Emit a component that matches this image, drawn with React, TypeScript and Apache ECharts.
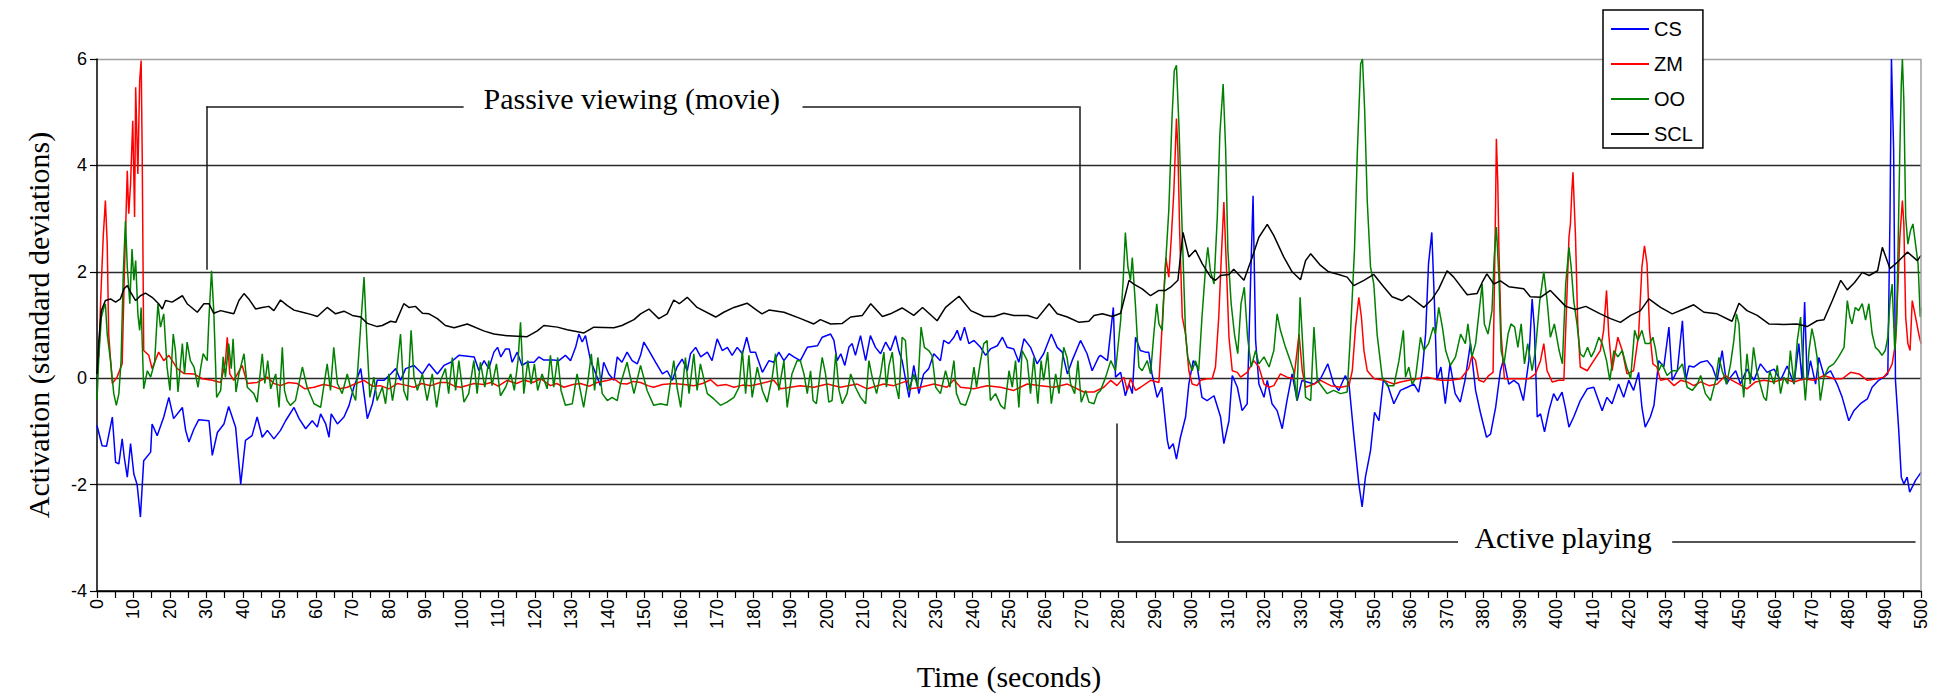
import React, { useEffect, useRef } from "react";
import * as echarts from "echarts";

const SERIES_NAMES = ["CS", "ZM", "OO", "SCL"];
const SERIES_COLORS = ["#0000ff", "#ff0000", "#008000", "#000000"];

const X_MIN = 0;
const X_MAX = 500;
const X_STEP = 10;
const Y_MIN = -4;
const Y_MAX = 6;
const Y_STEP = 2;

const X_TITLE = "Time (seconds)";
const Y_TITLE = "Activation (standard deviations)";

// [time (s), activation]
const csData: number[][] = [
  [0,-0.89],[1.4,-1.27],[2.6,-1.28],[4.2,-0.73],[5.1,-1.58],[6,-1.61],[6.9,-1.14],[7.5,-1.5],[8.3,-1.86],[9.2,-1.23],[10.1,-1.8],[11,-2.0],[11.9,-2.61],[12.8,-1.55],[14.7,-1.39],[15.1,-0.86],[16.5,-1.08],[18.3,-0.73],[19.7,-0.36],[21,-0.76],[23.4,-0.55],[24.3,-0.98],[25.2,-1.2],[26.6,-0.95],[27.9,-0.78],[30.7,-0.8],[31.6,-1.45],[33,-1.02],[34.8,-0.86],[36.1,-0.53],[38,-0.92],[39.4,-1.99],[40.7,-1.17],[42.5,-1.08],[43.9,-0.73],[45.3,-1.11],[46.7,-0.98],[48.5,-1.14],[50.3,-0.98],[51.7,-0.8],[54,-0.55],[55.4,-0.76],[57.2,-0.95],[59,-0.8],[60.4,-0.92],[61.3,-0.67],[62.7,-0.86],[63.6,-1.11],[64.2,-0.67],[65.9,-0.86],[67.7,-0.73],[69.1,-0.51],[70.4,-0.17],[72.3,0.18],[73.2,-0.29],[74.1,-0.76],[75.5,-0.48],[76.8,-0.04],[78.7,-0.04],[80.5,0.08],[81.9,0.18],[83.2,-0.04],[84.6,0.18],[86.9,0.24],[89.2,0.08],[91,0.27],[93.3,0.08],[95.1,0.24],[97,0.3],[99.2,0.43],
  [103.4,0.4],[104.7,0.14],[106.1,0.33],[107.4,0.18],[108.8,0.49],[109.8,0.58],[110.7,0.4],[112,0.55],[113,0.55],[113.8,0.3],[115.2,0.49],[116.5,0.24],[117.9,0.3],[119.8,0.3],[121.1,0.4],[122.5,0.34],[125.2,0.34],[126.6,0.33],[128.4,0.43],[129.8,0.33],[131.2,0.58],[132.1,0.83],[133,0.68],[133.9,0.8],[135.3,0.33],[137.1,0.02],[138,-0.14],[138.9,0.3],[140.3,0.08],[141.7,-0.04],[142.6,0.4],[143.9,0.3],[145.3,0.49],[146.7,0.33],[148.1,0.27],[149,0.43],[149.9,0.68],[151.3,0.52],[153.1,0.3],[155,0.08],[156.3,0.14],[157.7,-0.04],[159,0.21],[160.4,0.36],[161.8,0.14],[162.7,0.46],[164.1,0.58],[165.5,0.4],[167.3,0.49],[168.6,0.33],[170,0.74],[171.4,0.52],[172.8,0.58],[174.1,0.43],[175.5,0.58],[176.9,0.46],[178.1,0.77],[179.1,0.49],[180.5,0.49],[182.4,0.11],[184.2,0.33],[185.5,0.3],[186.9,0.49],[188.3,0.33],[189.7,0.46],[191,0.4],
  [192.8,0.33],[194.7,0.58],[197.5,0.61],[198.8,0.77],[201.1,0.83],[202,0.71],[202.9,0.33],[203.9,0.46],[205,0.24],[206.1,0.58],[207,0.65],[207.9,0.43],[209.3,0.8],[210.7,0.33],[212,0.8],[213.4,0.58],[214.8,0.46],[216.2,0.68],[217.5,0.52],[218.9,0.8],[219.8,0.52],[220.7,0.33],[221.7,-0.04],[222.6,-0.36],[223.9,0.24],[225.3,-0.29],[226.6,0.08],[228,0.18],[229.4,0.46],[231.2,0.33],[232.1,0.71],[233.5,0.65],[234.9,0.77],[235.8,0.9],[236.7,0.71],[237.8,0.96],[239,0.65],[240.4,0.71],[242.2,0.58],[243.6,0.43],[244.9,0.55],[246.8,0.61],[248.2,0.77],[249.5,0.58],[251.3,0.55],[252.7,0.3],[254.1,0.74],[255.9,0.58],[257.7,0.27],[259.5,0.46],[261.6,0.83],[263.2,0.58],[264.6,0.49],[266,0.08],[267.3,0.33],[269.6,0.71],[271.4,0.46],[272.8,0.14],[274.6,0.4],
  [275.1,0.43],[277,0.33],[278.6,1.33],[279.2,0.02],[280.6,0.11],[281.9,-0.33],[282.9,-0.11],[283.8,-0.29],[284.7,0.77],[286,0.52],[287.4,0.49],[288.3,0.49],[289.2,0.08],[290.6,-0.36],[291.9,-0.17],[293.4,-1.17],[293.9,-1.33],[295,-1.23],[295.9,-1.52],[297,-1.11],[298.4,-0.73],[299.3,-0.11],[300.5,0.33],[301.6,0.21],[302.9,-0.36],[304.3,-0.42],[306.2,-0.33],[308,-0.73],[308.9,-1.23],[310.3,-0.8],[311.2,0.05],[312.6,-0.17],[313.9,-0.61],[315.3,-0.48],[316.2,1.77],[316.9,3.43],[317.6,0.71],[318.5,-0.11],[319.9,-0.36],[320.8,-0.04],[322.1,-0.48],[323.5,-0.61],[324.9,-0.95],[326.2,-0.42],[327.6,0.08],[329,-0.42],[330.3,-0.04],[331.7,-0.07],[333.6,-0.11],[335.4,-0.01],[337.4,0.27],[339,-0.11],[340.4,-0.23],[342.2,0.05],[343.2,-0.11],[344.5,-1.05],[345.9,-1.99],[346.8,-2.42],[347.7,-1.86],[349.1,-1.36],[350.2,-0.64],[351.4,-0.8],[352.6,-0.04],[353.7,-0.11],[355.5,-0.48],[357.3,-0.23],
  [359.2,-0.17],[361,-0.11],[362.3,-0.26],[363.3,0.14],[364.2,0.83],[365,2.15],[365.9,2.74],[366.6,1.46],[367.3,-0.04],[368.4,0.21],[369.6,-0.48],[370.9,0.27],[372.3,-0.29],[373.7,-0.45],[375,-0.04],[376.5,0.65],[377.9,-0.23],[379.2,-0.64],[380.9,-1.11],[382,-1.05],[383.4,-0.55],[384.7,0.14],[385.6,0.36],[387,-0.11],[388.4,-0.04],[389.7,-0.11],[391,-0.42],[392.5,0.33],[393.4,1.49],[394,0.96],[394.8,-0.73],[395.7,-0.67],[396.8,-1.01],[398,-0.61],[399.3,-0.29],[400.3,-0.42],[401.6,-0.26],[402.5,-0.55],[403.5,-0.92],[404.8,-0.73],[406.6,-0.42],[408.5,-0.2],[410.3,-0.17],[412.6,-0.61],[413.9,-0.36],[415.3,-0.48],[417.1,-0.11],[418.5,-0.36],[419.9,-0.04],[421.2,-0.23],[422.6,0.11],[423.5,-0.55],[424.4,-0.92],[425.8,-0.73],
  [426.8,-0.51],[428.1,0.33],[429.5,0.21],[430.9,0.96],[431.8,-0.04],[433.2,0.14],[434.6,1.08],[435.5,-0.04],[436.4,0.23],[437.7,0.21],[439.6,0.3],[441.4,0.33],[442.8,0.21],[444.1,-0.04],[445.5,0.52],[446.7,-0.11],[447.8,0.02],[449.2,0.14],[450.5,-0.11],[452.3,0.17],[454.2,-0.04],[456,0.27],[457.8,0.11],[459.7,0.17],[461.5,-0.04],[463.3,0.23],[465.2,-0.11],[466.5,0.65],[467.4,-0.04],[468.1,1.43],[468.8,-0.04],[469.7,0.33],[471.1,-0.11],[472,0.39],[473.4,0.05],[475.2,0.14],[477,-0.11],[478.4,-0.36],[480.2,-0.8],[481.6,-0.61],[483.4,-0.48],[485.3,-0.39],[486.6,-0.17],[488.4,-0.04],[489.8,0.02],[490.9,0.08],[491.5,3.03],[491.9,6.0],[492.5,4.28],[493,-0.04],[493.9,-0.98],[494.6,-1.86],[495.3,-1.99],[496.2,-1.86],[496.9,-2.14],[498.5,-1.92],[500,-1.77]
];

const zmData: number[][] = [
  [0,0.4],[0.5,0.4],[1,1.46],[1.7,2.65],[2.3,3.34],[2.8,2.53],[3.2,0.83],[4.2,-0.1],[5.5,0.02],[6.9,0.27],[7.5,1.96],[8.3,3.9],[8.7,3.09],[9.2,3.65],[9.8,4.84],[10.3,3.03],[10.6,5.47],[11.2,3.84],[11.7,5.6],[12.1,5.97],[12.4,4.15],[12.8,0.52],[14.2,0.43],[15.1,0.18],[16.9,0.49],[18.3,0.33],[19.7,0.43],[22,0.18],[23.8,0.09],[26.6,0.08],[28.8,-0.01],[31.6,-0.04],[33.9,-0.08],[35.2,0.3],[35.7,0.77],[36.4,0.08],[37.5,-0.04],[39.8,0.24],[41.2,-0.1],[43.9,-0.08],[46.7,0.02],[48.5,-0.1],[50.3,-0.14],[52.5,-0.08],[54.9,-0.1],[57,-0.2],[59.5,-0.17],[62,-0.12],[64,-0.14],[66.5,-0.2],[68.6,-0.17],[71,-0.1],[73.2,-0.04],[75.5,-0.15],[77.7,-0.14],[80,-0.2],[82.3,-0.1],[84.5,-0.13],[86.9,-0.17],[89,-0.1],[91.5,-0.14],[94,-0.08],[96,-0.08],[98,-0.15],[99.7,-0.17],
  [103.4,-0.1],[106,-0.12],[108,-0.08],[110,-0.15],[112.4,-0.04],[115,-0.1],[117,-0.04],[119.5,-0.08],[121.6,-0.01],[124.3,-0.14],[126,-0.1],[128,-0.17],[130.5,-0.12],[132.5,-0.1],[135,-0.15],[137.1,-0.08],[139.5,-0.05],[141.7,-0.01],[143.5,-0.1],[145.3,-0.11],[147,-0.06],[149,-0.08],[151,-0.14],[152.6,-0.17],[155,-0.12],[158.1,-0.1],[161,-0.12],[163.6,-0.14],[166,-0.1],[168.2,-0.03],[170,-0.14],[172.5,-0.12],[174.6,-0.17],[177,-0.13],[179.2,-0.14],[182,-0.1],[185.5,-0.04],[187.4,-0.2],[190.1,-0.17],
  [192.8,-0.14],[196.5,-0.17],[200.2,-0.11],[203.8,-0.17],[208.4,-0.11],[211.1,-0.2],[215.7,-0.11],[218.4,-0.14],[222.1,-0.05],[223,-0.2],[225.8,-0.17],[229.4,-0.11],[233,-0.17],[234.9,-0.03],[236.7,-0.17],[240.4,-0.2],[244,-0.14],[247.7,-0.17],[251.3,-0.23],[255,-0.11],[258.7,-0.14],[262.3,-0.17],[266,-0.11],[270.5,-0.26],[273.3,-0.26],[276,-0.17],[277.9,-0.04],[279.6,-0.14],[281.5,0.02],[282.4,-0.23],[283.3,-0.01],[284.7,-0.23],[286.1,-0.17],[288.8,-0.04],[291.1,-0.08],
  [291.7,0.65],[292.4,1.52],[293,2.27],[293.8,1.9],[294.5,2.65],[295.2,3.53],[295.9,4.88],[296.3,4.28],[296.8,2.71],[297.5,1.15],[298.4,0.83],[299.3,0.14],[300.2,-0.11],[301.6,-0.14],[302.5,-0.04],[304.3,-0.01],[305.7,-0.01],[306.6,0.21],[307.5,1.15],[308.2,2.27],[308.9,3.31],[309.6,2.09],[310.3,0.77],[311.2,0.14],[312.6,0.11],[313.5,0.02],[315.3,0.11],[317.1,0.33],[318.5,0.21],[319.9,-0.11],[321.3,-0.17],[322.6,-0.14],[324.4,0.08],[326.2,0.02],[328.1,-0.01],[329.5,0.83],[330.4,0.14],[331.3,-0.17],[333.6,-0.11],[335.4,-0.04],[338.2,-0.14],[340.9,-0.17],[343.2,-0.14],[344.1,0.14],[345,0.96],[345.9,1.52],[346.6,1.15],[347.3,0.52],[348.2,0.14],[350.1,-0.01],[352.8,-0.04],[355.5,-0.11],
  [357.3,-0.07],[359.6,-0.04],[361.9,-0.01],[364.7,0.02],[366.5,-0.01],[368.3,-0.04],[371,-0.04],[373.8,-0.01],[376,0.18],[376.9,0.43],[377.9,0.33],[378.8,-0.04],[380.2,-0.07],[381.5,0.05],[382.7,0.11],[383.4,3.34],[383.6,4.5],[384,3.65],[384.3,2.4],[384.9,0.83],[385.8,-0.01],[387.9,-0.01],[390.2,-0.01],[392.5,-0.01],[394.3,0.08],[395.7,0.33],[396.6,0.65],[397.5,0.14],[398.9,-0.07],[400.7,-0.04],[402.1,-0.04],[402.8,1.27],[403.5,2.65],[403.9,2.9],[404.3,3.53],[404.6,3.87],[405.3,2.65],[405.9,1.02],[406.6,0.21],[408.5,0.14],[410.3,0.33],[412.1,0.52],[413,0.9],[413.8,1.65],[414.4,0.83],[415.3,0.14],[416.9,0.77],[418.1,0.52],[419.4,0.08],[421.2,0.14],[422.6,0.83],[423.5,2.09],[424.2,2.49],[424.9,2.15],[425.6,0.9],[426.5,0.27],[427.6,0.21],
  [428.6,-0.04],[430.4,-0.01],[432.3,-0.14],[434.1,-0.04],[435.9,-0.07],[437.7,-0.14],[439.6,-0.07],[441.9,-0.14],[444.1,-0.11],[446.4,0.05],[448.2,-0.04],[450.1,-0.11],[452.3,-0.2],[454.6,-0.07],[456.9,-0.04],[459.7,-0.07],[462.4,-0.01],[465.2,-0.07],[467.9,-0.01],[470.6,-0.04],[473.4,0.05],[476.1,-0.01],[478.4,-0.01],[480.7,0.11],[483,0.08],[485.3,-0.04],[488,-0.01],[489.8,0.02],[491.2,0.14],[492.1,0.27],[493,0.65],[493.7,1.77],[494.2,2.65],[494.9,3.34],[495.3,2.9],[495.8,1.15],[496.4,0.65],[497,0.52],[497.6,1.46],[498.5,1.15],[499.4,0.83],[500,0.65]
];

const ooData: number[][] = [
  [0,-0.42],[0.5,0.4],[1.2,1.15],[1.9,1.33],[2.3,1.4],[2.8,0.83],[3.7,0.33],[4.6,-0.29],[5.3,-0.51],[6,-0.29],[6.6,0.33],[7.2,1.96],[7.8,2.96],[8.3,2.09],[9,1.4],[9.6,2.43],[10.1,1.84],[10.6,2.21],[11.2,1.21],[11.7,0.9],[12.1,1.33],[12.8,-0.2],[13.8,0.14],[14.7,0.02],[15.8,0.3],[16.7,1.4],[17.4,0.96],[18.3,1.21],[19.2,0.21],[20,-0.23],[20.9,0.83],[21.5,0.52],[22.2,-0.26],[23.4,0.65],[24,0.08],[24.7,0.68],[25.6,0.33],[26.6,0.21],[27.7,-0.17],[28.4,0.18],[29.1,0.46],[30.2,0.33],[30.7,1.15],[31.4,2.02],[32,1.27],[32.8,-0.36],[33.9,-0.23],[34.6,0.4],[35.2,0.02],[36.1,0.65],[36.8,0.18],[37.3,0.74],[38.1,-0.26],[38.9,0.08],[40.3,0.46],[41.2,-0.17],[42.1,-0.23],[43,-0.29],[43.9,-0.45],[45.3,0.46],[46,-0.1],[46.8,0.33],[47.6,-0.2],[49,0.08],[49.9,-0.55],[50.8,0.58],[51.4,-0.23],[52.1,-0.42],[53,-0.51],[54.4,-0.42],[56.3,0.21],[57.6,-0.17],[59.5,-0.48],[61.3,-0.55],[63.1,0.27],[64,-0.23],[64.9,0.58],[65.9,-0.1],[67.2,-0.29],[68.6,0.08],[69.5,-0.17],[70.9,-0.42],[72.3,0.99],[73.2,1.9],[73.9,0.83],[74.8,-0.36],[75.9,0.02],[76.8,-0.42],[78.2,-0.17],[79.1,-0.48],[80,0.08],[81,-0.42],[81.9,-0.04],[83.2,0.83],[84.1,-0.23],[85.1,-0.42],[86.1,0.9],[86.9,0.02],[87.8,-0.23],[89.2,0.08],[90.5,-0.42],[91.9,0.08],[93.1,-0.55],[94.2,-0.04],
  [95.5,0.18],[96.4,-0.29],[97.4,0.39],[98.3,-0.23],[99.2,0.33],[100.6,-0.45],[101.9,-0.29],[103.3,0.33],[104.2,-0.29],[105.1,0.3],[106.3,-0.17],[107.4,0.33],[108.3,-0.14],[109.5,0.27],[110.6,-0.33],[112,-0.17],[113.4,0.08],[114.4,-0.23],[115.4,0.33],[116.1,1.05],[117,-0.29],[118.1,0.33],[119,-0.11],[119.9,0.27],[120.8,-0.23],[122,0.08],[123.4,-0.2],[124.3,0.43],[125.2,-0.17],[126.3,0.39],[127.2,-0.23],[128.4,-0.51],[130.3,-0.48],[131.6,0.08],[133.4,-0.55],[134.6,-0.04],[135.5,0.46],[136.4,-0.23],[137.3,0.39],[138.5,-0.29],[139.9,-0.42],[141.2,-0.36],[142.6,-0.42],[143.5,-0.11],[145.3,0.3],[147.2,-0.29],[149,0.24],[150.8,-0.23],[152.6,-0.51],[154.5,-0.48],[156.3,-0.51],[158.1,0.33],[159,-0.17],[160,-0.55],[161.3,0.39],[162.3,-0.29],[163.6,0.46],[164.5,-0.23],[165.4,0.27],[167.3,-0.29],[169.1,-0.39],[170.9,-0.51],[172.7,-0.45],[174.6,-0.36],[176,-0.17],[176.9,0.52],[177.8,-0.29],[178.7,0.43],[179.6,-0.36],[181,0.21],[182.4,-0.23],[183.7,-0.45],[185.1,0.02],[186,0.46],[186.9,-0.23],[188.3,0.33],[189.2,-0.55],[190.5,0.08],[191.9,0.33],
  [192.8,0.33],[193.8,0.08],[194.7,-0.29],[195.6,0.14],[196.3,-0.42],[197.2,-0.48],[198.2,0.08],[198.8,0.39],[199.7,0.08],[200.6,-0.45],[201.5,-0.42],[202.5,0.46],[203.4,-0.23],[204.3,-0.48],[205.6,-0.29],[206.6,0.08],[207.9,-0.17],[209.3,-0.36],[210.7,-0.48],[211.6,0.33],[212.5,0.02],[213.7,-0.29],[214.8,0.08],[215.7,0.49],[216.4,-0.17],[217.1,0.24],[218,0.49],[218.9,-0.11],[219.8,-0.39],[220.7,0.77],[221.6,0.71],[222.6,-0.23],[223.9,0.08],[225,-0.17],[225.9,0.96],[226.8,0.58],[228,0.52],[228.9,0.43],[229.9,-0.17],[231.2,-0.29],[232.6,0.14],[233.8,-0.17],[234.9,0.33],[235.6,-0.29],[236.7,-0.48],[238.1,-0.51],[239.5,-0.23],[240.4,0.21],[241.1,-0.17],[242.2,0.33],[243.1,0.65],[244,0.71],[244.9,-0.42],[246.3,-0.29],[247.7,-0.51],[248.8,-0.58],[250,0.14],[250.9,-0.17],[251.8,0.33],[252.7,-0.55],[253.6,0.52],[255,0.33],[255.9,-0.29],[256.8,0.39],[257.9,-0.48],[258.8,0.33],[259.5,-0.04],[260.6,0.49],[261.6,-0.48],[262.8,0.08],[263.7,-0.29],[265,0.58],[265.9,0.39],[266.9,-0.11],[268,-0.29],[268.9,0.33],[269.8,-0.45],[271,-0.23],[271.9,-0.45],[273.3,-0.48],[274.2,-0.29],[275.1,-0.23],[276.5,0.02],[277.9,0.33],[279.2,0.14],[280.6,1.08],[281.3,1.84],[281.9,2.74],[282.6,2.09],[283.3,1.84],[283.8,2.27],[284.7,1.33],[285.6,0.21],[286.5,0.14],[287.9,0.33],[288.8,0.08],[289.7,0.83],[290.5,1.4],[291.1,1.02],[292,0.9],
  [292.6,1.77],[293.8,3.15],[294.7,4.91],[295.3,5.78],[295.9,5.88],[296.6,4.72],[297.5,2.71],[298.4,0.83],[299,0.4],[300.2,0.14],[301.1,0.33],[302,0.14],[302.9,1.15],[303.9,2.09],[304.5,2.46],[305.2,2.02],[306.2,1.77],[307.1,3.03],[307.8,4.59],[308.7,5.53],[309.4,4.28],[310,2.4],[310.9,1.4],[311.8,0.83],[312.7,0.46],[313.6,1.4],[314.5,1.71],[315.4,0.77],[316.4,0.21],[317.6,0.52],[318.5,0.27],[319.9,0.4],[321.3,0.21],[322.6,0.52],[323.5,1.21],[324.4,0.9],[325.8,0.58],[327.1,0.33],[328,0.14],[328.9,-0.42],[329.8,1.52],[330.6,0.52],[331.3,-0.36],[332.7,-0.42],[333.6,0.96],[334.5,-0.04],[335.9,-0.17],[337.2,-0.29],[339,-0.23],[340.9,-0.29],[342.7,-0.26],[343.6,0.83],[344.7,2.4],[345.5,4.28],[346.4,5.91],[346.9,6.0],[347.5,5.03],[348.2,3.34],[349.1,2.09],[350,1.77],[350.9,0.83],[352.3,0.02],[353.7,-0.14],[355.5,-0.14],
  [356.9,0.33],[358.1,0.9],[358.7,0.02],[359.6,0.21],[360.5,-0.11],[361.4,-0.01],[362.8,0.77],[363.7,0.52],[365,0.65],[366.3,0.96],[366.9,0.83],[367.8,1.33],[368.8,0.96],[369.7,0.52],[371,0.24],[372.4,0.4],[373.8,0.83],[375.1,0.65],[375.8,1.02],[376.9,0.4],[377.9,0.65],[378.8,1.21],[379.7,1.77],[380.3,1.02],[381.3,0.83],[382.4,1.27],[383,2.27],[383.6,2.84],[384.3,1.9],[384.9,0.52],[385.7,0.27],[386.8,0.83],[387.6,1.02],[388.6,0.96],[389.5,0.58],[390.4,1.02],[391.3,0.27],[392.2,0.65],[393.4,0.14],[394.3,0.52],[395.5,1.46],[396.6,2.0],[397.5,1.46],[398.4,0.77],[399.5,1.02],[400.8,0.52],[401.7,0.27],[402.6,1.77],[403.5,2.46],[404.1,2.09],[404.8,1.46],[405.7,1.02],[406.6,0.46],[407.5,0.4],[408.6,0.58],[409.6,0.4],[410.5,0.52],[411.7,0.77],[412.6,0.65],[413.8,0.33],[414.7,-0.04],[415.8,0.52],[416.9,0.4],[418.1,0.52],[419.3,0.21],[420.4,-0.01],[421.5,0.9],[422.4,0.71],[423.5,0.9],[424.4,0.65],[425.6,0.65],[426.5,0.77],
  [427.2,0.55],[428.1,0.14],[429,0.27],[430.4,0.05],[431.8,0.14],[433.2,0.14],[434.6,0.27],[435.9,-0.17],[437.3,-0.23],[438.7,-0.11],[439.6,0.05],[440.9,-0.29],[442.3,-0.42],[443.7,-0.04],[444.6,0.39],[445.5,0.14],[446.7,-0.11],[447.8,0.27],[448.7,0.71],[449.4,1.21],[450.1,1.02],[450.7,0.21],[451.4,-0.36],[452.3,0.46],[453.2,-0.11],[454.1,0.58],[455,0.14],[455.9,-0.11],[456.9,-0.36],[457.6,-0.42],[458.5,0.14],[459.7,-0.11],[460.6,0.24],[461.5,-0.29],[462.4,0.02],[463.5,-0.11],[464.2,0.52],[465.2,-0.11],[466.1,0.71],[467,1.15],[467.7,0.14],[468.3,-0.42],[469.3,0.52],[470.1,0.93],[470.8,0.71],[471.5,0.4],[472.4,-0.42],[473.4,0.02],[474.7,0.21],[476.1,0.27],[477.4,0.4],[478.9,0.58],[479.8,1.46],[480.5,1.15],[481.1,1.02],[482,1.33],[482.9,1.27],[483.9,1.4],[484.8,1.09],[485.7,1.4],[486.6,0.84],[487.5,0.58],[488.4,0.52],[489.3,0.43],[490.2,0.52],[490.9,0.77],[491.5,1.46],[492.1,1.77],[492.8,0.52],[493.3,1.02],[493.7,2.4],[494.2,4.28],[494.6,5.53],[494.9,6.0],[495.3,5.22],[495.8,3.03],[496.4,2.52],[497.1,2.77],[497.8,2.9],[498.5,2.52],[499.2,2.15],[499.8,1.15],[500,1.33]
];

const sclData: number[][] = [
  [0,0.08],[0.5,0.7],[1.2,1.27],[2.3,1.46],[3.7,1.49],[5.1,1.43],[6.4,1.49],[7.4,1.68],[8.3,1.74],[9.2,1.62],[10.6,1.46],[11.9,1.55],[13.3,1.6],[15.1,1.52],[16.9,1.4],[17.9,1.3],[18.8,1.46],[20.6,1.43],[23.4,1.55],[24.7,1.4],[27.5,1.24],[29.3,1.4],[30.7,1.4],[32,1.22],[33.9,1.27],[35.7,1.24],[37.5,1.21],[38.9,1.46],[40.3,1.59],[41.6,1.49],[43.5,1.3],[45.3,1.33],[47.1,1.35],[48.5,1.27],[50.3,1.47],[52.1,1.37],[54,1.28],[56.3,1.24],[58.6,1.2],[60.4,1.16],[63.1,1.33],[65.4,1.21],[67.7,1.26],[70,1.18],[72.3,1.15],[74.1,1.03],[76.8,0.97],[78.2,0.99],[80.5,1.07],[81.9,1.05],[84.1,1.4],[85.5,1.33],[87.3,1.35],[89.2,1.22],[91,1.21],[93.3,1.12],[95.5,0.99],[97.9,0.95],
  [101.5,1.02],[106,0.89],[108.8,0.83],[112.4,0.8],[117.9,0.78],[120.7,0.89],[122.5,0.99],[126.2,0.96],[128.9,0.91],[133.5,0.85],[136.2,0.96],[141.7,0.95],[143.9,0.99],[147.2,1.1],[149,1.21],[151.3,1.3],[154,1.12],[156.3,1.21],[158.1,1.47],[159.6,1.4],[161.8,1.52],[164.5,1.33],[169.6,1.15],[171.8,1.24],[174.6,1.33],[178.2,1.41],[181,1.27],[182.3,1.21],[184.2,1.28],[188.3,1.24],[192.9,1.12],
  [196.5,1.02],[198.3,1.1],[201.1,1.02],[204.3,1.03],[206.6,1.15],[209.8,1.18],[212.1,1.4],[215.3,1.16],[217.5,1.21],[220.7,1.32],[223.9,1.18],[226.3,1.33],[230.3,1.08],[232.6,1.33],[236.3,1.54],[239.5,1.27],[243.1,1.16],[245.9,1.16],[248.6,1.22],[251.3,1.18],[255.1,1.18],[257.7,1.12],[261,1.4],[263.2,1.21],[266,1.15],[269.2,1.05],[271.9,1.07],[273.3,1.18],[275.6,1.21],[278.3,1.16],[280.6,1.22],
  [282.9,1.84],[284.2,1.77],[286.5,1.68],[288.8,1.55],[291.1,1.65],[292.9,1.65],[294.3,1.71],[296.3,1.84],[297.7,2.74],[299.3,2.28],[301.1,2.41],[303,2.15],[305.3,1.9],[306.6,1.84],[308,1.93],[310.3,1.95],[311.6,2.05],[314.4,1.84],[316.7,2.28],[318.5,2.65],[320.8,2.89],[322.6,2.68],[325.3,2.28],[327.6,2.0],[329.9,1.85],[331.3,2.21],[332.7,2.34],[335.4,2.12],[337.6,2.0],[339.9,1.96],[342.7,1.9],[344.5,1.74],[347.3,1.84],[350,1.95],[352.8,1.71],[355,1.53],
  [357.7,1.46],[359.6,1.55],[363.7,1.33],[366,1.49],[367.8,1.68],[370.1,2.02],[371.9,1.9],[375.6,1.57],[378.3,1.59],[379.7,1.8],[381,1.96],[382.9,1.77],[384.7,1.83],[387,1.72],[391.1,1.68],[392.9,1.53],[395.7,1.52],[398.4,1.65],[402.6,1.35],[405.3,1.29],[408.1,1.35],[412.1,1.21],[414.9,1.12],[417.6,1.05],[420.4,1.18],[423.1,1.27],[425.4,1.49],
  [428.6,1.33],[431.8,1.21],[435,1.3],[437.7,1.38],[440.5,1.24],[444.1,1.21],[448.2,1.07],[450.1,1.41],[452.3,1.27],[455.1,1.18],[458.3,1.02],[462.4,1.01],[466,1.02],[468.8,0.97],[471.5,1.08],[473.4,1.1],[475.7,1.46],[478,1.84],[479.8,1.66],[481.8,1.8],[483.9,1.99],[485.8,1.93],[488.1,2.02],[489.4,2.46],[491.5,2.06],[493.5,2.18],[496.3,2.37],[499,2.21],[500,2.31]
];

// Annotation brackets (data coordinates)
const passiveBracketLeft = [[30, 2.04], [30, 5.11], [100.5, 5.11]];
const passiveBracketRight = [[193.4, 5.11], [269.3, 5.11], [269.3, 2.04]];
const activeBracketLeft = [[279.4, -0.85], [279.4, -3.07], [373.1, -3.07]];
const activeBracketRight = [[431.8, -3.07], [498.5, -3.07]];
const passiveLabel = { text: "Passive viewing (movie)", at: [146.6, 5.26] };
const activeLabel = { text: "Active playing", at: [401.9, -2.99] };

const SERIES_DATA = [csData, zmData, ooData, sclData];

function segments(points: number[][]) {
  const out: any[] = [];
  for (let i = 0; i < points.length - 1; i++) {
    out.push([{ coord: points[i] }, { coord: points[i + 1] }]);
  }
  return out;
}

const SERIF = '"Liberation Serif", "Times New Roman", serif';
const SANS = '"Liberation Sans", Arial, sans-serif';

export default function App() {
  const ref = useRef<HTMLDivElement>(null);

  useEffect(() => {
    if (!ref.current) return;
    const chart = echarts.init(ref.current, null, { renderer: "svg" });

    const bracketSegs = [
      ...segments(passiveBracketLeft),
      ...segments(passiveBracketRight),
      ...segments(activeBracketLeft),
      ...segments(activeBracketRight),
    ];

    const series: any[] = SERIES_NAMES.map((name, i) => ({
      name,
      type: "line",
      data: SERIES_DATA[i],
      showSymbol: false,
      symbol: "none",
      silent: true,
      clip: true,
      lineStyle: { color: SERIES_COLORS[i], width: 1.5 },
      itemStyle: { color: SERIES_COLORS[i] },
      emphasis: { disabled: true },
    }));

    series[3].markLine = {
      silent: true,
      symbol: ["none", "none"],
      label: { show: false },
      emphasis: { disabled: true },
      lineStyle: { color: "#1a1a1a", width: 1.5, type: "solid" },
      data: [
        { xAxis: X_MAX, lineStyle: { color: "#a0a0a0", width: 1.5, type: "solid" } },
        ...bracketSegs,
      ],
    };

    const option: any = {
      animation: false,
      backgroundColor: "#ffffff",
      grid: { left: 97, top: 59, width: 1824, height: 532, containLabel: false },
      xAxis: {
        type: "value",
        min: X_MIN,
        max: X_MAX,
        interval: X_STEP,
        axisLine: { show: true, onZero: false, lineStyle: { color: "#000", width: 1.5 } },
        axisTick: { show: true, length: 7, lineStyle: { color: "#000", width: 1.2 } },
        minorTick: { show: true, splitNumber: 2, length: 7, lineStyle: { color: "#000", width: 1.2 } },
        axisLabel: { rotate: 90, fontSize: 18, fontFamily: SANS, color: "#000", margin: 8 },
        splitLine: { show: false },
      },
      yAxis: {
        type: "value",
        min: Y_MIN,
        max: Y_MAX,
        interval: Y_STEP,
        axisLine: { show: true, onZero: false, lineStyle: { color: "#000", width: 1.5 } },
        axisTick: { show: true, length: 7, lineStyle: { color: "#000", width: 1.2 } },
        axisLabel: { fontSize: 18, fontFamily: SANS, color: "#000", margin: 10 },
        splitLine: {
          show: true,
          lineStyle: { color: ["#000", "#2a2a2a", "#2a2a2a", "#2a2a2a", "#2a2a2a", "#a0a0a0"], width: 1.4 },
        },
      },
      legend: {
        data: SERIES_NAMES.map((n, i) => ({ name: n, icon: "rect", itemStyle: { color: SERIES_COLORS[i] } })),
        orient: "vertical",
        left: 1603,
        top: 10,
        itemWidth: 38,
        itemHeight: 2,
        itemGap: 15,
        padding: [9, 10, 4, 8],
        backgroundColor: "#ffffff",
        borderColor: "#000000",
        borderWidth: 1.5,
        selectedMode: false,
        textStyle: { fontFamily: SANS, fontSize: 20, color: "#000", lineHeight: 20 },
        z: 10,
      },
      series,
    };

    chart.setOption(option);

    const p1 = chart.convertToPixel({ gridIndex: 0 } as any, passiveLabel.at) as number[];
    const p2 = chart.convertToPixel({ gridIndex: 0 } as any, activeLabel.at) as number[];

    const textStyle = (text: string, x: number, y: number) => ({
      text,
      x,
      y,
      fill: "#000",
      font: `30px ${SERIF}`,
      align: "center",
      verticalAlign: "middle",
      textAlign: "center",
      textVerticalAlign: "middle",
    });

    chart.setOption({
      graphic: [
        { type: "text", z: 20, style: textStyle(passiveLabel.text, p1[0], p1[1]) },
        { type: "text", z: 20, style: textStyle(activeLabel.text, p2[0], p2[1]) },
        { type: "text", z: 20, style: textStyle(X_TITLE, 1009, 676) },
        { type: "text", z: 20, x: 38, y: 325, rotation: Math.PI / 2, style: textStyle(Y_TITLE, 0, 0) },
      ],
    });

    return () => {
      chart.dispose();
    };
  }, []);

  return (
    <div
      ref={ref}
      style={{ position: "absolute", left: 0, top: 0, width: 1943, height: 696, background: "#fff" }}
    />
  );
}
